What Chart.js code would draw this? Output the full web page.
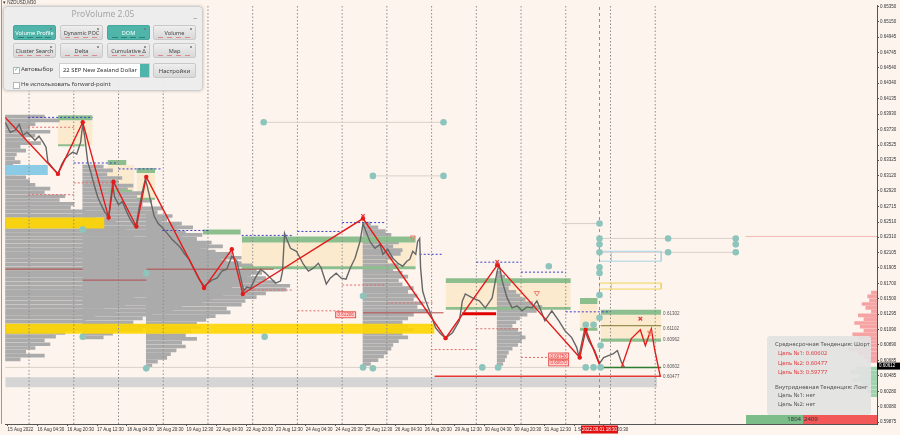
<!DOCTYPE html>
<html lang="ru">
<head>
<meta charset="utf-8">
<title>NZDUSD M30 - ProVolume</title>
<script src="https://cdn.jsdelivr.net/npm/chart.js@4.4.1/dist/chart.umd.min.js"></script>
<style>
  html, body { margin: 0; padding: 0; background: #fdf4ee; }
  #wrap { position: relative; width: 900px; height: 435px; overflow: hidden; font-family: "Noto Sans", "DejaVu Sans", sans-serif; }
  #c { position: absolute; left: 0; top: 0; }
  .edge { position: absolute; left: 1px; top: 0; width: 1px; height: 424px; background: #9a9a9a; }
  .sym { position: absolute; left: 3px; top: 0; font: 4.5px "Liberation Sans", sans-serif; color: #333; }

  /* панель ProVolume */
  #pv { position: absolute; left: 3px; top: 6px; width: 200px; height: 85px; box-sizing: border-box; background: rgba(236,236,236,0.97); border: 1px solid #cfcfcf; border-radius: 4px; box-shadow: 0 0 3px rgba(0,0,0,0.25); }
  #pv .ttl { position: absolute; left: 0; top: 1px; width: 100%; text-align: center; font-size: 8.5px; color: #a5a5a5; }
  #pv .min { position: absolute; right: 5px; top: 1px; font-size: 8px; color: #8a8a8a; }
  .b { position: absolute; width: 43px; height: 15px; box-sizing: border-box; border: 1px solid #c9c9c9; border-radius: 2px; background: linear-gradient(#eeeeee, #d8d8d8); color: #444; font-size: 5.6px; line-height: 14px; text-align: center; white-space: nowrap; overflow: hidden; }
  .b.on { background: #4fb4a9; border-color: #46a79c; color: #fff; }
  .b::after { content: ""; position: absolute; left: 4px; right: 4px; bottom: 1.5px; height: 1px; background: repeating-linear-gradient(90deg, #d98a8a 0 5px, transparent 5px 9px); }
  .b.on::after { background: repeating-linear-gradient(90deg, #2e8077 0 6px, transparent 6px 9px); }
  .b::before { content: ""; position: absolute; right: 3px; top: 2px; width: 2px; height: 2px; border-radius: 1px; background: #777; }
  .b.plain::after, .b.plain::before { display: none; }
  .b.plain { line-height: 14px; font-size: 6px; }
  .cb { position: absolute; width: 5px; height: 5px; border: 1px solid #b5b5b5; background: #fff; }
  .cb.ok::after { content: "✓"; position: absolute; left: 0; top: -3px; font-size: 6px; color: #4fb4a9; }
  .lbl { position: absolute; font-size: 6px; color: #444; white-space: nowrap; }
  .sel { position: absolute; left: 55px; top: 56px; width: 91px; height: 15px; box-sizing: border-box; background: #fff; border: 1px solid #cfcfcf; font-size: 5.9px; line-height: 13px; padding-left: 3px; color: #333; white-space: nowrap; }
  .sel .arr { position: absolute; right: 0; top: 0; width: 9px; height: 100%; background: #4fb4a9; }

  /* панель тенденций */
  #info { position: absolute; left: 767px; top: 336px; width: 104px; height: 79px; background: rgba(226,226,226,0.92); border-radius: 3px; }
  #info div { position: absolute; font-size: 5.8px; line-height: 7px; white-space: nowrap; color: #555; }
  #info .r { color: #e23b3b; }
  .vb { position: absolute; top: 415px; height: 9px; font-size: 6px; line-height: 9px; color: #333; box-sizing: border-box; }
</style>
</head>
<body>
<div id="wrap">
  <canvas id="c" width="900" height="435"></canvas>
  <div class="edge"></div>
  <div class="sym">▾ NZDUSD,M30</div>

  <div id="pv">
    <div class="ttl">ProVolume 2.05</div>
    <div class="min">_</div>
    <div class="b on" style="left:9px;top:18px">Volume Profile</div>
    <div class="b" style="left:56px;top:18px">Dynamic POC</div>
    <div class="b on" style="left:103px;top:18px">DOM</div>
    <div class="b" style="left:149px;top:18px">Volume</div>
    <div class="b" style="left:9px;top:36px">Cluster Search</div>
    <div class="b" style="left:56px;top:36px">Delta</div>
    <div class="b" style="left:103px;top:36px">Cumulative Δ</div>
    <div class="b" style="left:149px;top:36px">Map</div>
    <div class="cb ok" style="left:9px;top:60px"></div>
    <div class="lbl" style="left:17px;top:58px">Автовыбор</div>
    <div class="sel">22 SEP New Zealand Dollar<span class="arr"></span></div>
    <div class="b plain" style="left:149px;top:56px">Настройки</div>
    <div class="cb" style="left:9px;top:75px"></div>
    <div class="lbl" style="left:17px;top:73px">Не использовать forward-point</div>
  </div>

  <div id="info">
    <div style="left:8px;top:4.5px">Среднесрочная Тенденция: Шорт</div>
    <div class="r" style="left:11px;top:13.5px">Цель №1: 0.60602</div>
    <div class="r" style="left:11px;top:23.5px">Цель №2: 0.60477</div>
    <div class="r" style="left:11px;top:32.5px">Цель №3: 0.59777</div>
    <div style="left:8px;top:47.5px">Внутридневная Тенденция: Лонг</div>
    <div style="left:11px;top:55.5px">Цель №1: нет</div>
    <div style="left:11px;top:64.5px">Цель №2: нет</div>
  </div>
  <div class="vb" style="left:746px;width:57px;background:#7cbd8a;text-align:right;padding-right:2px">1804</div>
  <div class="vb" style="left:803px;width:74px;background:#f25858;padding-left:1px">2409</div>
</div>

<script>
// время по оси X - торговые часы от 15 Aug 00:00 (выходные выброшены), цена NZDUSD
const xMin = 11.2, xMax = 479;
const yMin = 0.59849, yMax = 0.65367;

const yTicks = [0.65350, 0.65150, 0.64945, 0.64745, 0.64540, 0.64340, 0.64135, 0.63930, 0.63730, 0.63525,
  0.63325, 0.63120, 0.62920, 0.62715, 0.62510, 0.62310, 0.62105, 0.61905, 0.61700, 0.61500,
  0.61295, 0.61090, 0.60890, 0.60685, 0.60485, 0.60280, 0.60080, 0.59875];

const xLabelT = [12.5, 28.5, 44.5, 60.5, 76.5, 92.5, 108.5, 124.5, 140.5, 156.5, 172.5, 188.5, 204.5,
  220.5, 236.5, 252.5, 268.5, 284.5, 300.5, 316.5, 332.5];
const xLabels = ['15 Aug 2022', '16 Aug 04:30', '16 Aug 20:30', '17 Aug 12:30', '18 Aug 04:30', '18 Aug 20:30',
  '19 Aug 12:30', '22 Aug 04:30', '22 Aug 20:30', '23 Aug 12:30', '24 Aug 04:30', '24 Aug 20:30', '25 Aug 12:30',
  '26 Aug 04:30', '26 Aug 20:30', '29 Aug 12:30', '30 Aug 04:30', '30 Aug 20:30', '31 Aug 12:30', '1 Sep 04:30', '1 Sep 20:30'];

// разделители дней
const dayLines = [24, 48, 72, 96, 120, 144, 168, 192, 216, 240, 264, 288, 312, 336, 360];

// цена (закрытия, с хвостами)
const priceT = [11.2, 13.9, 16.5, 18.7, 20.8, 22.9, 25.6, 27.2, 29.3, 31.5,
  33.1, 34.1, 36.3, 39.5, 41.6, 43.2, 45.3, 47.5, 49.6, 51.7,
  52.8, 53.9, 55.5, 57.1, 59.2, 60.8, 62.4, 64.5, 66.7, 67.7,
  68.8, 69.9, 72.0, 74.1, 76.3, 78.4, 80.5, 81.6, 83.2, 84.8,
  86.4, 87.5, 89.1, 91.2, 93.3, 95.5, 98.1, 100.8, 102.9, 105.1,
  107.2, 109.9, 112.5, 115.2, 117.9, 119.5, 122.1, 124.8, 127.5, 130.1,
  132.8, 135.5, 137.6, 139.2, 140.8, 142.9, 145.6, 148.3, 150.9, 153.6,
  156.3, 158.9, 160.0, 161.1, 162.1, 164.3, 167.5, 171.2, 173.9, 176.5,
  179.2, 180.8, 183.5, 185.6, 188.8, 191.5, 194.1, 196.3, 198.9, 201.6,
  203.2, 204.8, 206.9, 209.6, 212.3, 213.9, 216.5, 219.2, 221.9, 224.5,
  226.7, 228.3, 229.9, 231.5, 232.5, 233.6, 234.1, 235.2, 236.8, 239.5,
  242.1, 244.8, 247.5, 251.2, 254.9, 256.5, 258.1, 261.9, 265.6, 268.8,
  272.5, 275.2, 276.3, 277.9, 280.5, 283.2, 285.9, 288.5, 291.2, 293.9,
  296.5, 298.1, 300.8, 304.5, 308.3, 311.5, 315.2, 317.9, 319.0, 320.5,
  322.1, 324.3, 327.5, 330.1, 332.3, 334.9, 337.6, 339.7, 341.9, 343.5];
const priceV = [0.63824, 0.63693, 0.63719, 0.63798, 0.63654, 0.63693, 0.63628, 0.63589, 0.63641, 0.63563,
  0.63497, 0.63301, 0.63236, 0.63144, 0.63275, 0.63340, 0.63393, 0.63432, 0.63406, 0.63563,
  0.63798, 0.63628, 0.63301, 0.63170, 0.62974, 0.62843, 0.62752, 0.62647, 0.62569, 0.62778,
  0.63013, 0.62843, 0.62739, 0.62778, 0.62647, 0.62543, 0.62464, 0.62490, 0.62713, 0.62909,
  0.63079, 0.62974, 0.62804, 0.62582, 0.62490, 0.62438, 0.62360, 0.62281, 0.62229, 0.62177,
  0.62098, 0.62020, 0.61889, 0.61758, 0.61667, 0.61693, 0.61745, 0.61771, 0.61863, 0.61889,
  0.62060, 0.61994, 0.61771, 0.61601, 0.61654, 0.61640, 0.61784, 0.61889, 0.61837, 0.61771,
  0.61706, 0.61732, 0.61863, 0.62360, 0.62294, 0.62164, 0.62125, 0.61954, 0.61863, 0.61902,
  0.61967, 0.61902, 0.61693, 0.61771, 0.61837, 0.61771, 0.61758, 0.61902, 0.62033, 0.62255,
  0.62490, 0.62386, 0.62255, 0.62164, 0.62216, 0.62085, 0.62151, 0.62033, 0.61967, 0.61928,
  0.61994, 0.62020, 0.62125, 0.62085, 0.62255, 0.62294, 0.61902, 0.61601, 0.61471, 0.61301,
  0.61118, 0.61039, 0.60980, 0.61052, 0.61209, 0.61471, 0.61562, 0.61510, 0.61471, 0.61379,
  0.61510, 0.61863, 0.61942, 0.61732, 0.61510, 0.61379, 0.61405, 0.61340, 0.61392, 0.61379,
  0.61471, 0.61379, 0.61209, 0.61340, 0.61209, 0.61079, 0.60987, 0.60856, 0.60738, 0.60908,
  0.61091, 0.60948, 0.60817, 0.60647, 0.60725, 0.60751, 0.60777, 0.60817, 0.60660, 0.60595];
const lastPrice = 0.60612;

// зигзаг и прогноз
const zigT = [11.2, 39.5, 52.8, 66.7, 69.3, 81.6, 86.9, 117.9, 132.8, 138.7, 203.2, 247.5, 275.2, 319.5, 322.7, 330.7];
const zigV = [0.63889, 0.63144, 0.63824, 0.62569, 0.63040, 0.62451, 0.63105, 0.61640, 0.62151, 0.61562,
  0.62556, 0.60980, 0.61942, 0.60725, 0.61091, 0.60595];
const projT = [341.9, 347.2, 352.0, 354.7, 357.9, 359.5, 362.7];
const projV = [0.60595, 0.60974, 0.61091, 0.60882, 0.61104, 0.60856, 0.60477];

// профили объёма: начало (час), верхний уровень, ширины уровней (в часах)
const profStep = 0.0005;
const profAnchor = [11.2, 52.8, 86.9, 203.2, 275.2];
const profTop = [0.6390, 0.6324, 0.6262, 0.6249, 0.6184];
const profW1 = [21, 29, 16, 13, 24, 16, 11, 19, 8, 11, 6, 5, 8, 4, 5, 6, 11, 13, 16, 24,
  21, 32, 29, 37, 35, 43, 53, 48, 59, 51, 64, 75, 69, 85, 80, 93, 88, 101, 96, 107,
  99, 112, 104, 96, 91, 85, 80, 75, 69, 80, 64, 53, 59, 48, 43, 53, 45, 32, 27, 21, 24, 16, 11, 21, 8];
const profW2 = [11, 16, 13, 21, 19, 27, 24, 32, 29, 37, 32, 43, 40, 48, 45, 53, 59, 51, 64, 61,
  69, 75, 67, 80, 85, 77, 91, 83, 96, 88, 93, 85, 80, 88, 75, 69, 64, 53, 48, 37, 32, 27, 43, 32, 16, 11];
const profW3 = [5, 11, 8, 16, 13, 21, 19, 27, 32, 29, 37, 43, 40, 51, 48, 59, 56, 64, 69, 77,
  75, 64, 59, 53, 51, 43, 45, 37, 32, 27, 29, 24, 21, 27, 19, 21, 16, 13, 11, 6, 3];
const profW4 = [4, 8, 12, 15, 11, 19, 16, 21, 20, 16, 13, 19, 16, 21, 24, 19, 21, 27, 24, 29,
  27, 32, 29, 35, 27, 24, 21, 24, 27, 21, 24, 19, 16, 15, 13, 11, 8, 4];
const profW5 = [2, 4, 5, 7, 6, 10, 12, 15, 19, 24, 21, 16, 12, 10, 8, 11, 13, 15, 13, 11, 8, 6, 5, 4, 3];
const profW = [profW1, profW2, profW3, profW4, profW5];

// стакан справа (от правого края влево)
const askTop = 0.6158;
const askW = [3, 5, 4, 8, 6, 3, 10, 7, 12, 9, 7, 13, 10, 8, 12, 15, 10, 7, 5];
const bidTop = 0.6058;
const bidW = [11, 14, 9, 13, 8, 10, 5, 3];

// зоны: [начало, конец, верх, низ]
const grayBand = [11.2, 361, 0.60464, 0.60333];
const yellowBands = [[11.2, 64.5, 0.62569, 0.62425], [11.2, 241.6, 0.61170, 0.61039]];
const blueBand = [11.2, 34.1, 0.63262, 0.63131];
const beigeZones = [[39.5, 58.1, 0.63850, 0.63523], [66.1, 80.5, 0.63262, 0.62909], [81.6, 91.7, 0.63157, 0.62804],
  [138.1, 231.5, 0.62242, 0.61928], [247.5, 314.7, 0.61706, 0.61392], [319.5, 329.1, 0.61431, 0.61104],
  [330.7, 363.2, 0.61288, 0.60974]];
const greenZones = [[39.5, 58.1, 0.63916, 0.63850], [39.5, 53.9, 0.63536, 0.63510], [66.1, 76.3, 0.63327, 0.63262],
  [66.1, 79.5, 0.62935, 0.62909], [81.6, 91.7, 0.63223, 0.63157], [81.6, 91.7, 0.62830, 0.62804],
  [117.3, 137.6, 0.62412, 0.62347], [138.1, 231.5, 0.62321, 0.62242], [138.1, 231.5, 0.61928, 0.61889],
  [247.5, 314.7, 0.61771, 0.61706], [247.5, 314.7, 0.61392, 0.61353], [319.5, 329.1, 0.61510, 0.61431],
  [319.5, 329.1, 0.61118, 0.61079], [330.7, 363.2, 0.61353, 0.61288], [330.7, 363.2, 0.60974, 0.60934]];

// уровни: [начало, конец, цена]
const blueLevels = [[23.5, 58.1, 0.63889], [48.0, 71.5, 0.63288], [72.0, 95.5, 0.63210], [95.5, 120.5, 0.62399],
  [138.1, 166.0, 0.62334], [168.0, 191.5, 0.62386], [192.0, 215.5, 0.62503], [233.6, 245.9, 0.62085],
  [264.0, 288.0, 0.61981], [288.0, 312.0, 0.61850], [312.0, 336.0, 0.61327]];
const redLevels = [[23.5, 48.0, 0.63759], [48.0, 71.5, 0.63026], [23.5, 48.0, 0.62870], [138.1, 166.0, 0.61614],
  [168.0, 192.5, 0.61340], [192.0, 215.5, 0.61680], [216.0, 240.5, 0.61445], [239.5, 264.0, 0.60830],
  [264.0, 288.0, 0.61104], [288.0, 312.0, 0.60726]];
const darkRedLevels = [[11.2, 52.8, 0.61889], [86.9, 155.2, 0.61889], [52.8, 86.9, 0.61745], [203.2, 246.4, 0.61314]];
const paleLevels = [[149.9, 246.4, 0.63824], [208.5, 246.4, 0.63118], [11.2, 361, 0.60595],
  [330.1, 403.2, 0.62294], [330.1, 403.2, 0.62111], [309.9, 330.1, 0.62490]];
const pinkLevels = [[408.5, 479, 0.62320]];
const targetLine = [241.6, 363.2, 0.60477];
const pocThick = [256.5, 274.6, 0.61301];
const greenTarget = [330.7, 363.2, 0.60595];
const oliveLine = [330.7, 363.2, 0.61144];
const blueRect = [330.1, 363.2, 0.62125, 0.61994];
const yellowRect = [330.1, 363.2, 0.61706, 0.61627];
const rectSplitT = 336.5;

// точки уровней
const tealT = [149.9, 246.4, 208.5, 246.4, 52.8, 86.9, 52.8, 150.4, 203.2, 86.9,
  203.2, 208.5, 267.2, 275.7, 302.9, 322.7, 326.9, 330.7, 322.7, 326.9,
  330.7, 330.1, 330.1, 330.1, 330.1, 330.1, 330.1, 330.1, 330.1, 366.9, 366.9, 403.2, 403.2, 403.2];
const tealV = [0.63824, 0.63824, 0.63118, 0.63118, 0.62412, 0.61837, 0.60999, 0.60999, 0.61536, 0.60582,
  0.60595, 0.60582, 0.60595, 0.60595, 0.61928, 0.60595, 0.60595, 0.60595, 0.61157, 0.61157,
  0.60882, 0.61248, 0.61549, 0.61837, 0.61915, 0.62111, 0.62216, 0.62294, 0.62490, 0.62294, 0.62111, 0.62294, 0.62216, 0.62111];
const crossT = [203.2, 275.2, 352.0];
const crossV = [0.62590, 0.61985, 0.61236];
const arrowT = [229.9, 296.5, 357.3];
const arrowV = [0.62307, 0.61575, 0.61052];

// подписи уровней
const levelLabT = 363.7;
const levelLabV = [0.61302, 0.61102, 0.60962, 0.60602, 0.60477];
const boxLabT = [193.9, 308.2, 308.2];
const boxLabV = [0.61288, 0.60745, 0.60654];
const boxLabTxt = ['0.61306', '0.60750', '0.60670'];
const cursorT = 330.1;
const cursorLabel = '2022.09.01 18:30';

// ---------- сборка датасетов ----------
const pts = (ts, vs) => ts.map((t, i) => ({ x: t, y: vs[i] }));

function seg(s, color, width, dash, order) {
  return { type: 'line', data: [{ x: s[0], y: s[2] }, { x: s[1], y: s[2] }], borderColor: color,
    borderWidth: width, borderDash: dash || [], pointRadius: 0, fill: false, order, xAxisID: 'x', yAxisID: 'y' };
}
function zone(z, color, order) {
  return { type: 'line', data: [{ x: z[0], y: z[2] }, { x: z[1], y: z[2] }], borderWidth: 0, pointRadius: 0,
    backgroundColor: color, fill: { value: z[3] }, order, xAxisID: 'x', yAxisID: 'y' };
}
function outline(r, color, order) {
  return { type: 'line', data: [{ x: r[0], y: r[2] }, { x: r[1], y: r[2] }, { x: r[1], y: r[3] }, { x: r[0], y: r[3] }, { x: r[0], y: r[2] }],
    borderColor: color, borderWidth: 1, pointRadius: 0, fill: false, order, xAxisID: 'x', yAxisID: 'y' };
}
function vline(t, p0, p1, color, dash, order) {
  return { type: 'line', data: [{ x: t, y: p0 }, { x: t, y: p1 }], borderColor: color, borderWidth: 1,
    borderDash: dash, pointRadius: 0, fill: false, order, xAxisID: 'x', yAxisID: 'y' };
}
function profile(t0, top, widths, color, order, leftward) {
  return { type: 'bar', indexAxis: 'y', xAxisID: 'x', yAxisID: 'y', grouped: false, barThickness: 3,
    borderWidth: 0, backgroundColor: color, order,
    data: widths.map((w, i) => ({ y: +(top - i * profStep).toFixed(5), x: leftward ? [t0 - w, t0] : [t0, t0 + w] })) };
}

const datasets = [];
datasets.push(zone(grayBand, '#d5d5d5', 95));
beigeZones.forEach(z => datasets.push(zone(z, 'rgba(252,226,180,0.55)', 90)));
profAnchor.forEach((t0, k) => datasets.push(profile(t0, profTop[k], profW[k], '#ababab', 80, false)));
datasets.push(profile(xMax, askTop, askW, '#f5a3a3', 80, true));
datasets.push(profile(xMax, bidTop, bidW, '#9fd3ad', 80, true));
yellowBands.forEach(z => datasets.push(zone(z, 'rgba(255,214,0,0.9)', 70)));
datasets.push(zone(blueBand, '#8ccbe6', 70));
greenZones.forEach(z => datasets.push(zone(z, '#8dbf8e', 60)));
dayLines.forEach(t => datasets.push(vline(t, yMin, yMax, '#8c8c8c', [1.5, 2], 55)));
paleLevels.forEach(s => datasets.push(seg(s, '#d9d0c8', 1, null, 50)));
pinkLevels.forEach(s => datasets.push(seg(s, '#f3b9ae', 1, null, 50)));
blueLevels.forEach(s => datasets.push(seg(s, '#3c3cc8', 1, [2, 2], 45)));
redLevels.forEach(s => datasets.push(seg(s, '#e06a6a', 1, [2, 2], 45)));
darkRedLevels.forEach(s => datasets.push(seg(s, '#b24a4a', 1, null, 45)));
datasets.push(outline(blueRect, '#a9d4e6', 40));
datasets.push(outline(yellowRect, '#f2d35a', 40));
datasets.push(vline(rectSplitT, blueRect[2], blueRect[3], '#a9d4e6', [], 40));
datasets.push(vline(rectSplitT, yellowRect[2], yellowRect[3], '#f2d35a', [], 40));
datasets.push(seg(targetLine, '#e53935', 1.5, null, 40));
datasets.push(seg(pocThick, '#e00000', 3, null, 40));
datasets.push(seg(greenTarget, '#2e7d32', 1.5, null, 40));
datasets.push(seg(oliveLine, '#7d7a2e', 1, null, 40));
datasets.push(vline(cursorT, yMin, yMax, '#e07070', [3, 3], 35));

datasets.push({ type: 'line', data: pts(priceT, priceV), borderColor: '#666666', borderWidth: 1.4,
  pointRadius: 0, tension: 0, fill: false, order: 20, xAxisID: 'x', yAxisID: 'y' });
datasets.push({ type: 'line', data: pts(zigT, zigV), borderColor: '#e31b1b', borderWidth: 1.4,
  pointRadius: zigT.map((t, i) => i === 0 ? 0 : 2.2), pointBackgroundColor: '#e31b1b', pointBorderWidth: 0,
  fill: false, order: 10, xAxisID: 'x', yAxisID: 'y' });
datasets.push({ type: 'line', data: pts(projT, projV), borderColor: '#e31b1b', borderWidth: 1.4,
  pointRadius: 0, fill: false, order: 10, xAxisID: 'x', yAxisID: 'y' });
datasets.push({ type: 'line', data: pts(tealT, tealV), showLine: false, pointRadius: 3.3,
  pointBackgroundColor: '#8dc4bc', pointBorderWidth: 0, order: 5, xAxisID: 'x', yAxisID: 'y' });
datasets.push({ type: 'line', data: pts(crossT, crossV), showLine: false, pointStyle: 'crossRot', pointRadius: 2.5,
  pointBorderColor: '#e53935', pointBorderWidth: 1.2, order: 4, xAxisID: 'x', yAxisID: 'y' });
datasets.push({ type: 'line', data: pts(arrowT, arrowV), showLine: false, pointStyle: 'triangle', rotation: 180,
  pointRadius: 3, pointBackgroundColor: 'rgba(0,0,0,0)', pointBorderColor: '#ef7f6f', pointBorderWidth: 1,
  order: 4, xAxisID: 'x', yAxisID: 'y' });

// подписи поверх графика
const labelsPlugin = {
  id: 'labelsPlugin',
  afterDraw(chart) {
    const { ctx, scales: { x, y } } = chart;
    ctx.save();
    ctx.font = '4.5px "Liberation Sans"';
    ctx.textBaseline = 'middle';
    ctx.textAlign = 'left';
    ctx.fillStyle = '#555';
    levelLabV.forEach(v => ctx.fillText(v.toFixed(5), x.getPixelForValue(levelLabT) + 1, y.getPixelForValue(v)));

    boxLabT.forEach((t, i) => {
      const px = x.getPixelForValue(t), py = y.getPixelForValue(boxLabV[i]);
      ctx.fillStyle = 'rgba(255,205,205,0.9)';
      ctx.fillRect(px - 10, py - 3, 20, 6);
      ctx.strokeStyle = '#e53935';
      ctx.lineWidth = 0.8;
      ctx.strokeRect(px - 10, py - 3, 20, 6);
      ctx.fillStyle = '#e53935';
      ctx.textAlign = 'center';
      ctx.fillText(boxLabTxt[i], px, py + 0.3);
    });

    // текущая цена на шкале
    const py = y.getPixelForValue(lastPrice);
    ctx.fillStyle = '#000';
    ctx.fillRect(x.right, py - 3.5, 23, 7);
    ctx.fillStyle = '#fff';
    ctx.textAlign = 'left';
    ctx.fillText(lastPrice.toFixed(5), x.right + 2, py);

    // метка времени курсора
    const cx = x.getPixelForValue(cursorT);
    ctx.fillStyle = '#e01010';
    ctx.fillRect(cx - 18.5, y.bottom + 1.5, 37, 8);
    ctx.fillStyle = '#fff';
    ctx.textAlign = 'center';
    ctx.fillText(cursorLabel, cx, y.bottom + 5.5);
    ctx.restore();
  }
};

Chart.defaults.font.family = '"Liberation Sans", sans-serif';

new Chart(document.getElementById('c'), {
  type: 'line',
  data: { datasets },
  options: {
    responsive: false,
    animation: false,
    events: [],
    layout: { padding: { top: 2, left: 0, right: 0, bottom: 0 } },
    plugins: { legend: { display: false }, tooltip: { enabled: false } },
    scales: {
      x: {
        type: 'linear', position: 'bottom', min: xMin, max: xMax, offset: false,
        afterBuildTicks: s => { s.ticks = xLabelT.map(v => ({ value: v })); },
        afterFit: s => { s.height = 11; },
        ticks: { autoSkip: false, maxRotation: 0, align: 'start', padding: 1, color: '#333',
          font: { size: 4.5 }, callback: (v, i) => xLabels[i] },
        grid: { drawOnChartArea: false, tickLength: 2, color: '#555' },
        border: { color: '#555' }
      },
      y: {
        type: 'linear', position: 'right', min: yMin, max: yMax, offset: false,
        afterBuildTicks: s => { s.ticks = yTicks.map(v => ({ value: v })); },
        afterFit: s => { s.width = 23; },
        ticks: { padding: 1, color: '#333', font: { size: 4.5 }, callback: v => v.toFixed(5) },
        grid: { drawOnChartArea: false, tickLength: 2, color: '#555', offset: false },
        border: { color: '#555' }
      }
    }
  },
  plugins: [labelsPlugin]
});
</script>
</body>
</html>
